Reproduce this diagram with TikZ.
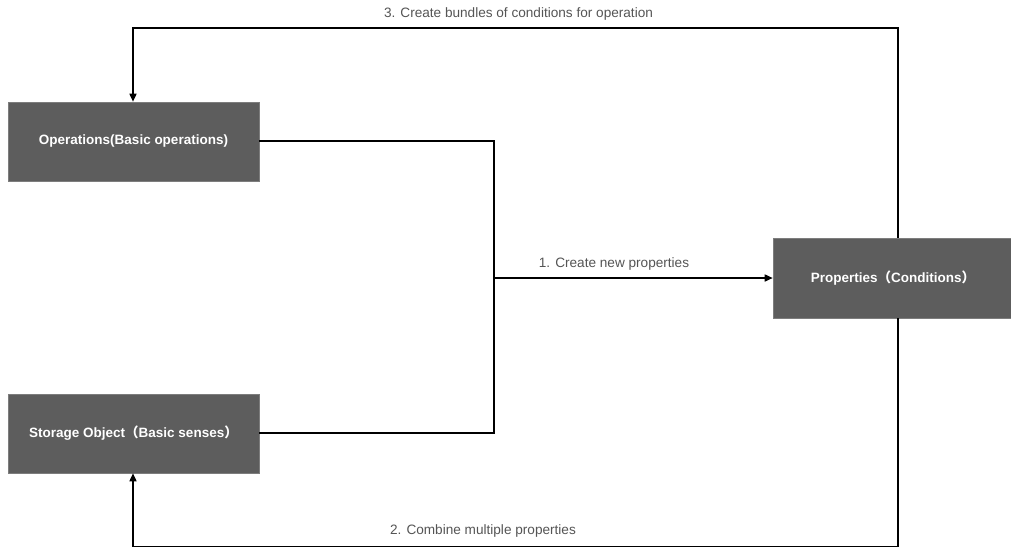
\documentclass[tikz,border=0pt]{standalone}
\usepackage{fontspec}
\setmainfont{Liberation Sans}
\newfontfamily\cjk{Noto Sans CJK SC}
\usetikzlibrary{arrows.meta}
\definecolor{boxgray}{HTML}{5D5D5D}
\definecolor{labgray}{HTML}{555555}
\begin{document}
\begin{tikzpicture}[x=1pt,y=-1pt,
  darkbox/.style={draw=boxgray!80!white,line width=0.6pt,fill=boxgray,text=white,font=\bfseries\fontsize{13.5}{16}\selectfont,inner sep=0pt},
  conn/.style={line width=1.6pt,black},
  arr/.style={conn,-{Triangle[length=8pt,width=7pt]}},
  lab/.style={text=labgray,font=\fontsize{13.6}{16}\selectfont,inner sep=0pt}]
\useasboundingbox (0,0) rectangle (1011,546);
\fill[white] (0,0) rectangle (1011,546);
\node[darkbox,minimum width=251pt,minimum height=79pt] (ops) at (133.5,141.5) {Operations(Basic operations)};
\node[darkbox,minimum width=251pt,minimum height=79pt] (sto) at (133.5,433.5) {Storage Object{\cjk（}Basic senses{\cjk）}};
\node[darkbox,minimum width=240pt,minimum height=80pt] (prop) at (893,278) {Properties{\cjk（}Conditions{\cjk）}};
\coordinate (jt) at (494,141);
\coordinate (jb) at (494,433);
\coordinate (jm) at (494,278);
\coordinate (tr) at (898,28);
\coordinate (tl) at (133,28);
\coordinate (br) at (898,546.3);
\coordinate (bl) at (133,546.3);
\draw[conn] (ops.east |- jt) -- (jt) -- (jb) -- (sto.east |- jb);
\draw[arr] (jm) -- (prop.west |- jm);
\draw[arr] (prop.north -| tr) -- (tr) -- (tl) -- (ops.north -| tl);
\draw[arr] (prop.south -| br) -- (br) -- (bl) -- (sto.south -| bl);
\node[lab] (l3) at (518.5,14) {3. Create bundles of conditions for operation};
\node[lab] (l1) at (614,264) {1. Create new properties};
\node[lab] (l2) at (483,531) {2. Combine multiple properties};
\end{tikzpicture}
\end{document}
